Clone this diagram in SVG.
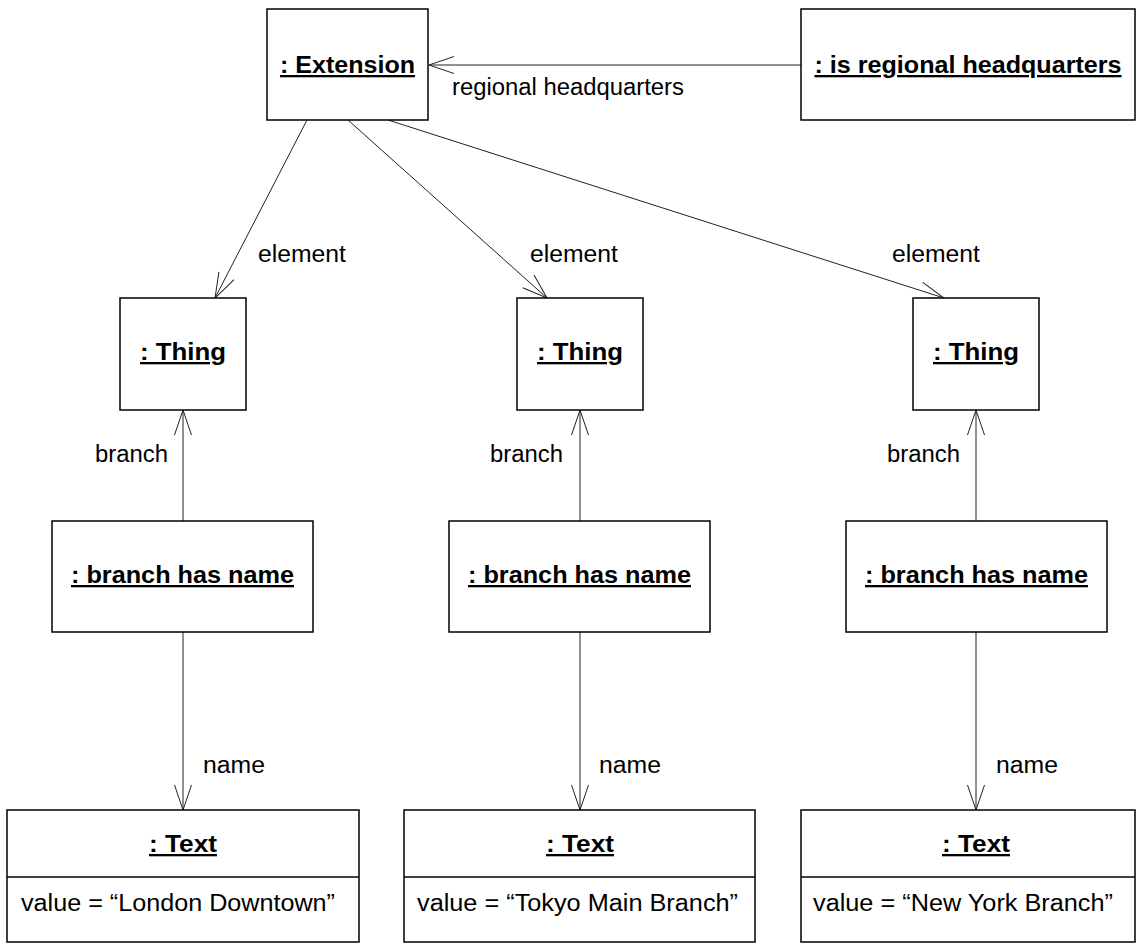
<svg xmlns="http://www.w3.org/2000/svg" width="1136" height="944" viewBox="0 0 1136 944">
<style>
.box{fill:#fff;stroke:#000;stroke-width:1.5}
.conn{fill:none;stroke:#222;stroke-width:1}
.t{font-family:"Liberation Sans",Arial,sans-serif;font-size:23px;fill:#000}
.b{font-weight:bold;text-decoration:underline;text-anchor:middle}
</style>
<defs>
<marker id="open" markerUnits="userSpaceOnUse" markerWidth="32" markerHeight="22" viewBox="-28 -11 32 22" refX="0" refY="0" orient="auto">
<path d="M-25,-8.5 L0,0 L-25,8.5" fill="none" stroke="#222" stroke-width="1"/>
</marker>
</defs>
<rect width="1136" height="944" fill="#fff"/>
<g id="connectors">
<line class="conn" x1="801" y1="65" x2="429" y2="65" marker-end="url(#open)"/>
<line class="conn" x1="307" y1="120" x2="215" y2="298" marker-end="url(#open)"/>
<line class="conn" x1="348" y1="120" x2="547" y2="298" marker-end="url(#open)"/>
<line class="conn" x1="388" y1="120" x2="944" y2="298" marker-end="url(#open)"/>
<line class="conn" x1="183" y1="521" x2="183" y2="410" marker-end="url(#open)"/>
<line class="conn" x1="580" y1="521" x2="580" y2="410" marker-end="url(#open)"/>
<line class="conn" x1="976" y1="521" x2="976" y2="410" marker-end="url(#open)"/>
<line class="conn" x1="183" y1="632" x2="183" y2="810" marker-end="url(#open)"/>
<line class="conn" x1="580" y1="632" x2="580" y2="810" marker-end="url(#open)"/>
<line class="conn" x1="976" y1="632" x2="976" y2="810" marker-end="url(#open)"/>
<text class="t" x="452" y="95" textLength="232" lengthAdjust="spacingAndGlyphs">regional headquarters</text>
<text class="t" x="258" y="262" textLength="88" lengthAdjust="spacingAndGlyphs">element</text>
<text class="t" x="530" y="262" textLength="88" lengthAdjust="spacingAndGlyphs">element</text>
<text class="t" x="892" y="262" textLength="88" lengthAdjust="spacingAndGlyphs">element</text>
<text class="t" x="95" y="462" textLength="73" lengthAdjust="spacingAndGlyphs">branch</text>
<text class="t" x="490" y="462" textLength="73" lengthAdjust="spacingAndGlyphs">branch</text>
<text class="t" x="887" y="462" textLength="73" lengthAdjust="spacingAndGlyphs">branch</text>
<text class="t" x="203" y="773" textLength="62" lengthAdjust="spacingAndGlyphs">name</text>
<text class="t" x="599" y="773" textLength="62" lengthAdjust="spacingAndGlyphs">name</text>
<text class="t" x="996" y="773" textLength="62" lengthAdjust="spacingAndGlyphs">name</text>
</g>
<g id="extension">
<rect class="box" x="267" y="9" width="161" height="111"/>
<text class="t b" x="347.5" y="73" textLength="135" lengthAdjust="spacingAndGlyphs">: Extension</text>
</g>
<g id="is-regional-headquarters">
<rect class="box" x="801" y="9" width="334" height="111"/>
<text class="t b" x="968" y="73" textLength="307" lengthAdjust="spacingAndGlyphs">: is regional headquarters</text>
</g>
<g id="thing-1">
<rect class="box" x="120" y="298" width="126" height="112"/>
<text class="t b" x="183" y="360" textLength="86" lengthAdjust="spacingAndGlyphs">: Thing</text>
</g>
<g id="thing-2">
<rect class="box" x="517" y="298" width="126" height="112"/>
<text class="t b" x="580" y="360" textLength="86" lengthAdjust="spacingAndGlyphs">: Thing</text>
</g>
<g id="thing-3">
<rect class="box" x="913" y="298" width="126" height="112"/>
<text class="t b" x="976" y="360" textLength="86" lengthAdjust="spacingAndGlyphs">: Thing</text>
</g>
<g id="branch-has-name-1">
<rect class="box" x="52" y="521" width="261" height="111"/>
<text class="t b" x="182.5" y="583" textLength="223" lengthAdjust="spacingAndGlyphs">: branch has name</text>
</g>
<g id="branch-has-name-2">
<rect class="box" x="449" y="521" width="261" height="111"/>
<text class="t b" x="579.5" y="583" textLength="223" lengthAdjust="spacingAndGlyphs">: branch has name</text>
</g>
<g id="branch-has-name-3">
<rect class="box" x="846" y="521" width="261" height="111"/>
<text class="t b" x="976.5" y="583" textLength="223" lengthAdjust="spacingAndGlyphs">: branch has name</text>
</g>
<g id="text-1">
<rect class="box" x="7" y="810" width="352" height="132"/>
<line class="box" x1="7" y1="877" x2="359" y2="877"/>
<text class="t b" x="183" y="852" textLength="68" lengthAdjust="spacingAndGlyphs">: Text</text>
<text class="t" x="21" y="911" textLength="314" lengthAdjust="spacingAndGlyphs">value = “London Downtown”</text>
</g>
<g id="text-2">
<rect class="box" x="404" y="810" width="351" height="132"/>
<line class="box" x1="404" y1="877" x2="755" y2="877"/>
<text class="t b" x="580" y="852" textLength="68" lengthAdjust="spacingAndGlyphs">: Text</text>
<text class="t" x="417" y="911" textLength="321" lengthAdjust="spacingAndGlyphs">value = “Tokyo Main Branch”</text>
</g>
<g id="text-3">
<rect class="box" x="801" y="810" width="334" height="132"/>
<line class="box" x1="801" y1="877" x2="1135" y2="877"/>
<text class="t b" x="976" y="852" textLength="68" lengthAdjust="spacingAndGlyphs">: Text</text>
<text class="t" x="813" y="911" textLength="300" lengthAdjust="spacingAndGlyphs">value = “New York Branch”</text>
</g>
</svg>
